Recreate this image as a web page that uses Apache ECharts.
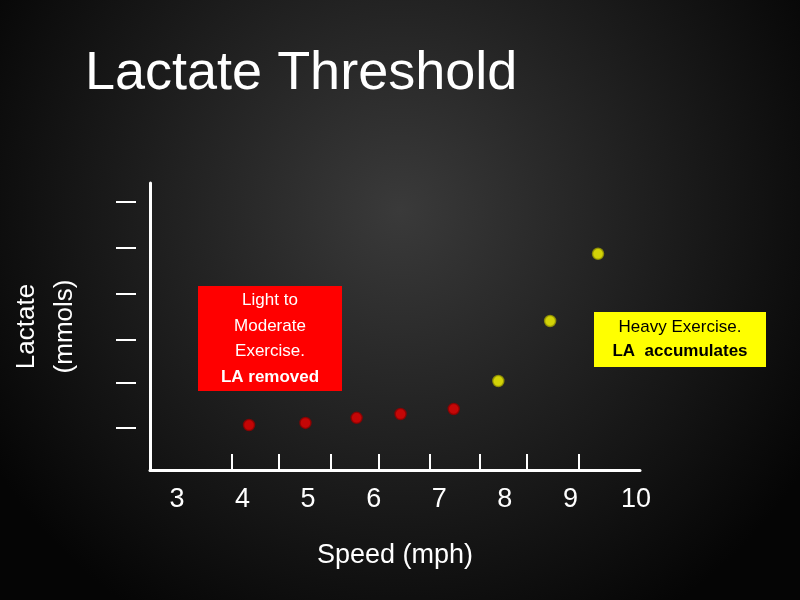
<!DOCTYPE html>
<html><head><meta charset="utf-8">
<script src="https://cdn.jsdelivr.net/npm/echarts@6/dist/echarts.min.js"></script>
<style>html,body{margin:0;padding:0;background:#000}#c{width:800px;height:600px}</style>
</head><body><div id="c"></div>
<script>
const xLabels = [3,4,5,6,7,8,9,10];
const xTicks = [3.83,4.56,5.34,6.07,6.86,7.61,8.34,9.13];
const yTicks = [1.76,3.64,5.44,7.36,9.29,11.21];
const lightSpeed = [4.1,4.96,5.74,6.41,7.22];
const lightLactate = [1.88,1.97,2.18,2.34,2.55];
const heavySpeed = [7.9,8.69,9.42];
const heavyLactate = [3.72,6.23,9.04];

const chart = echarts.init(document.getElementById('c'));
const F = 'Liberation Sans, Arial, sans-serif';
chart.setOption({
  backgroundColor: new echarts.graphic.RadialGradient(0.5,0.35,0.8,[{offset:0,color:'#3a3a3a'},{offset:0.6,color:'#1a1a1a'},{offset:1,color:'#050505'}]),
  animation:false,
  title:{text:'Lactate Threshold',left:80,top:42,textStyle:{color:'#fff',fontSize:54,fontWeight:'normal',fontFamily:F}},
  grid:{left:146,right:160,top:183,bottom:130},
  xAxis:{type:'value',min:2.59,max:10.06,
    name:'Speed (mph)',nameLocation:'middle',nameGap:72,
    nameTextStyle:{color:'#fff',fontSize:27,fontFamily:F},
    axisLine:{lineStyle:{color:'#fff',width:3}},
    axisTick:{show:true,inside:true,length:16,lineStyle:{color:'#fff',width:2},customValues:xTicks},
    axisLabel:{color:'#fff',fontSize:27,fontFamily:F,margin:16,customValues:xLabels},
    splitLine:{show:false}},
  yAxis:[{type:'value',min:0,max:12,
    name:'Lactate\n(mmols)',nameLocation:'middle',nameGap:66,nameRotate:90,
    nameTextStyle:{color:'#fff',fontSize:26,fontFamily:F,lineHeight:38},
    axisLine:{show:true,lineStyle:{color:'#fff',width:3}},
    axisTick:{show:false},axisLabel:{show:false},splitLine:{show:false}},
   {type:'value',min:0,max:12,position:'left',offset:14,
    axisLine:{show:false},
    axisTick:{show:true,length:20,lineStyle:{color:'#fff',width:2},customValues:yTicks},
    axisLabel:{show:false},splitLine:{show:false}}],
  series:[
   {type:'scatter',symbolSize:11,data:lightSpeed.map((v,i)=>[v,lightLactate[i]]),
    itemStyle:{color:'#ee0000',borderColor:'#900000',borderWidth:1.5}},
   {type:'scatter',symbolSize:11,data:heavySpeed.map((v,i)=>[v,heavyLactate[i]]),
    itemStyle:{color:'#ffff00',borderColor:'#999900',borderWidth:1.5}}
  ],
  graphic:[
   {type:'rect',shape:{x:198,y:286,width:144,height:105},style:{fill:'#ff0000'}},
   {type:'text',x:270,y:339,style:{text:'Light to\nModerate\nExercise.\n{b|LA removed}',rich:{b:{fontWeight:'bold',fill:'#fff',fontSize:17,fontFamily:F}},fill:'#fff',fontSize:17,fontFamily:F,lineHeight:25.5,align:'center',verticalAlign:'middle'}},
   {type:'rect',shape:{x:594,y:312,width:172,height:55},style:{fill:'#ffff00'}},
   {type:'text',x:680,y:339,style:{text:'Heavy Exercise.\n{b|LA  accumulates}',rich:{b:{fontWeight:'bold',fill:'#000',fontSize:17,fontFamily:F}},fill:'#000',fontSize:17,fontFamily:F,lineHeight:24,align:'center',verticalAlign:'middle'}}
  ]
});
</script></body></html>
